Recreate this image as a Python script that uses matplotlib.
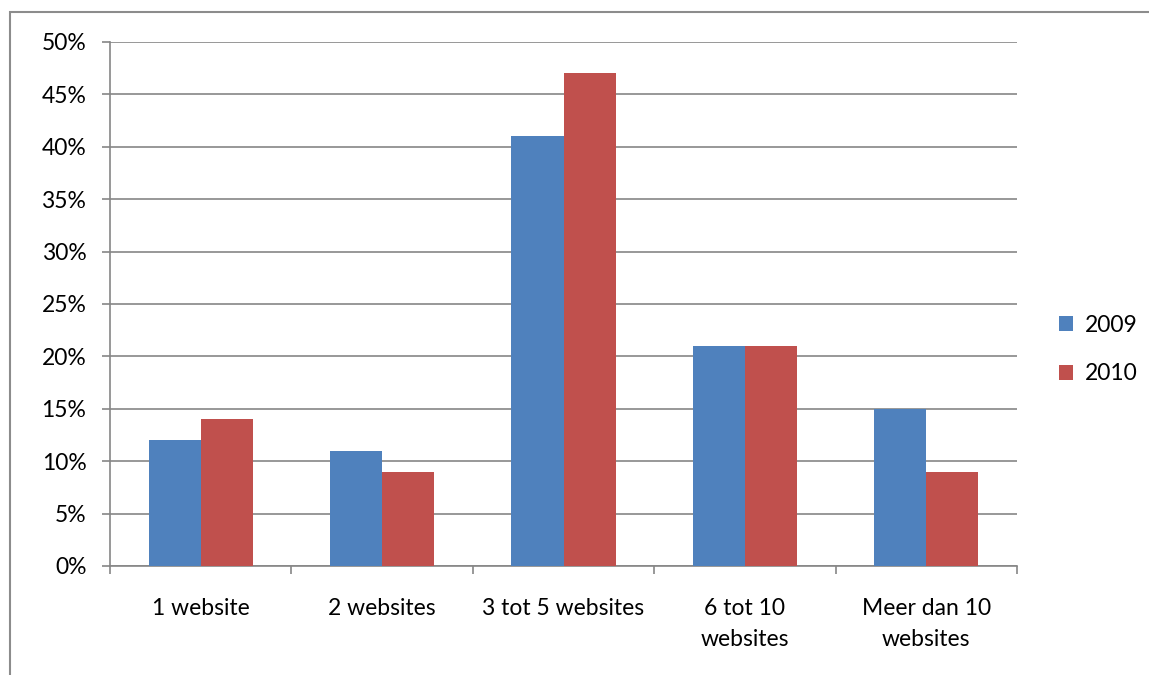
import matplotlib.pyplot as plt
import numpy as np
from matplotlib.patches import Rectangle
from matplotlib.ticker import MultipleLocator, PercentFormatter

categories = ["1 website", "2 websites", "3 tot 5 websites", "6 tot 10\nwebsites", "Meer dan 10\nwebsites"]
series_names = ["2009", "2010"]
values_2009 = [12, 11, 41, 21, 15]
values_2010 = [14, 9, 47, 21, 9]

blue = "#4F81BD"
red = "#C0504D"
grey = "#868686"

plt.rcParams["font.family"] = ["Lato", "DejaVu Sans"]

fig = plt.figure(figsize=(11.49, 6.75), dpi=100)
ax = fig.add_axes([110 / 1149, 1 - 566 / 675, (1017 - 110) / 1149, (566 - 42) / 675])

x = np.arange(len(categories))
w = 0.287
ax.bar(x - w / 2, values_2009, w, color=blue, label=series_names[0], zorder=3)
ax.bar(x + w / 2, values_2010, w, color=red, label=series_names[1], zorder=3)

ax.set_xlim(-0.5, len(categories) - 0.5)
ax.set_ylim(0, 50)
ax.yaxis.set_major_locator(MultipleLocator(5))
ax.yaxis.set_major_formatter(PercentFormatter(decimals=0))
ax.grid(axis="y", color=grey, linewidth=1.2, zorder=0)

ax.set_xticks(x)
ax.set_xticklabels(categories, fontsize=16.5, linespacing=1.6)
ax.set_xticks(np.arange(len(categories) + 1) - 0.5, minor=True)
ax.tick_params(axis="x", which="major", length=0, pad=23)
ax.tick_params(axis="x", which="minor", length=6, width=1.2, color=grey, direction="out")
ax.tick_params(axis="y", length=6, width=1.2, color=grey, labelsize=16.5, pad=11)

for s in ["top", "right"]:
    ax.spines[s].set_visible(False)
for s in ["left", "bottom"]:
    ax.spines[s].set_color(grey)
    ax.spines[s].set_linewidth(1.2)

ax.legend(loc="center left", bbox_to_anchor=(1.029, 0.413), frameon=False, fontsize=16.5,
          handlelength=0.6, handleheight=0.6, handletextpad=0.5, labelspacing=1.2,
          borderaxespad=0.3)

fig.patches.append(Rectangle((10 / 1149, -0.1), 1.2, 1.1 - 12 / 675, transform=fig.transFigure,
                             fill=False, edgecolor="#8c8c8c", linewidth=1.5, clip_on=False))

fig.savefig("out.png", dpi=100)
